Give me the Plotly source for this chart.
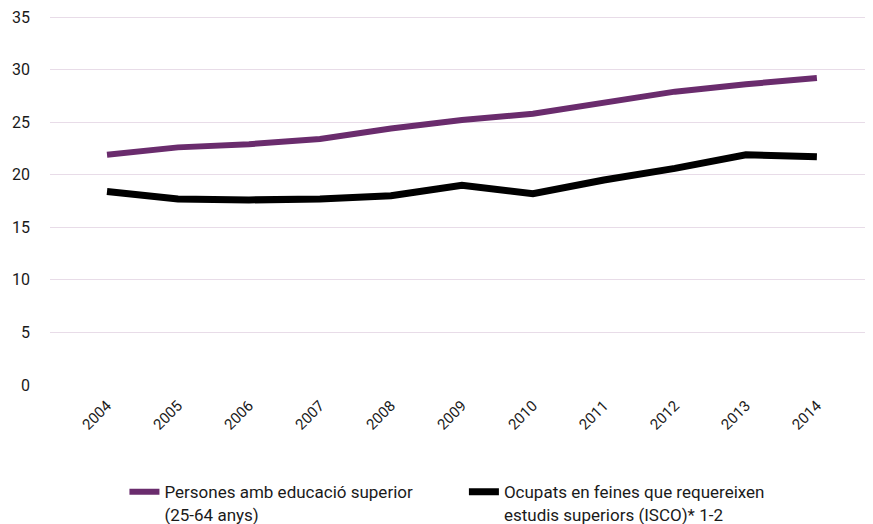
import plotly.graph_objects as go

years = [2004, 2005, 2006, 2007, 2008, 2009, 2010, 2011, 2012, 2013, 2014]
persones = [21.9, 22.6, 22.9, 23.4, 24.4, 25.2, 25.8, 26.8, 27.9, 28.6, 29.2]
ocupats = [18.4, 17.7, 17.6, 17.7, 18.0, 19.0, 18.2, 19.5, 20.6, 21.9, 21.7]
name_persones = "Persones amb educació superior<br>(25-64 anys)"
name_ocupats = "Ocupats en feines que requereixen<br>estudis superiors (ISCO)* 1-2"
y_ticks = [0, 5, 10, 15, 20, 25, 30, 35]

fig = go.Figure()
fig.add_trace(go.Scatter(x=years, y=persones, mode="lines", name=name_persones,
                         line=dict(color="#6a2c6d", width=6), legend="legend"))
fig.add_trace(go.Scatter(x=years, y=ocupats, mode="lines", name=name_ocupats,
                         line=dict(color="#000000", width=7), legend="legend2"))

leg_common = dict(orientation="v", y=-0.240, yanchor="top", valign="top",
                  font=dict(size=17, color="#1a1a1a"), itemwidth=30,
                  bgcolor="rgba(0,0,0,0)")
fig.update_layout(
    width=865, height=516,
    margin=dict(l=42, r=5, t=5, b=139, autoexpand=False),
    paper_bgcolor="white", plot_bgcolor="white",
    font=dict(family="Roboto", color="#1a1a1a"),
    showlegend=True,
    legend=dict(x=0.091, xanchor="left", **leg_common),
    legend2=dict(x=0.506, xanchor="left", **leg_common),
    xaxis=dict(range=[2004 - 0.803, 2004 + 10.72], tickmode="array", tickvals=years,
               ticktext=[str(y) for y in years], tickangle=-45, showgrid=False,
               zeroline=False, showline=False, tickfont=dict(size=15), ticks="",
               ticklabelstandoff=8),
    yaxis=dict(range=[0, 35.38], tickvals=y_ticks, showgrid=True, gridcolor="#e8dce8",
               gridwidth=1, zeroline=False, showline=False, tickfont=dict(size=16),
               ticks="", ticklabelstandoff=19, ticklabeloverflow="allow"),
)
fig.write_html("out.html")
